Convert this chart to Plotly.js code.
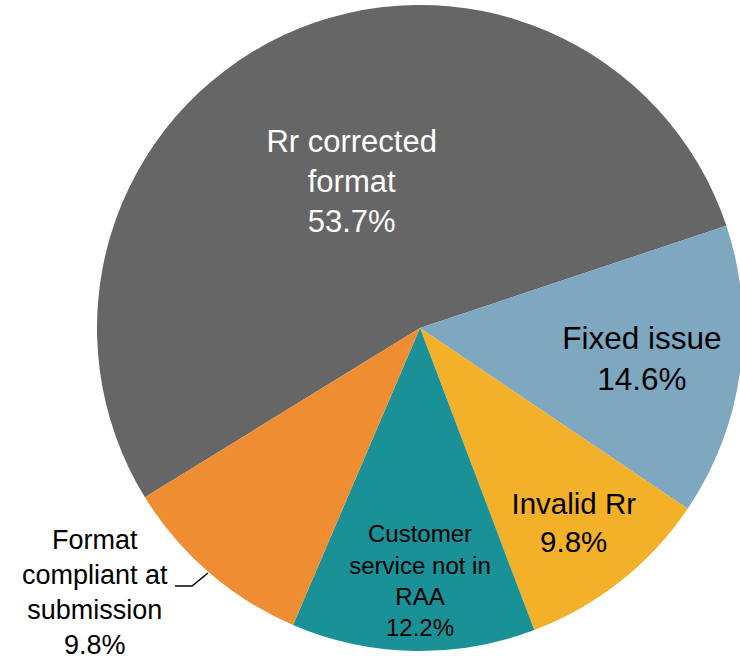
<!DOCTYPE html>
<html>
<head>
<meta charset="utf-8">
<script src="https://cdn.plot.ly/plotly-3.0.1.min.js"></script>
<style>html,body{margin:0;padding:0;background:#fff;overflow:hidden;}#chart{width:746px;height:656px;}</style>
</head>
<body>
<div id="chart"></div>
<script>
const categories = ["Rr corrected<br>format", "Fixed issue", "Invalid Rr", "Customer<br>service not in<br>RAA", "Format<br>compliant at<br>submission"];
const shares = [53.7, 14.6, 9.8, 12.2, 9.8];
const percentLabels = ["53.7%", "14.6%", "9.8%", "12.2%", "9.8%"];
const colors = ["#666666", "#7ea8c0", "#f3b12a", "#1a9097", "#ee8d32"];
const textColors = ["#ffffff", "#000000", "#000000", "#000000", "#000000"];
const textPositions = ["inside", "inside", "inside", "inside", "none"];
const textSizes = [31, 31.5, 29.5, 26, 27];

const W = 746, H = 656;
const trace = {
  type: "pie",
  labels: categories,
  values: shares,
  text: percentLabels,
  sort: false,
  direction: "clockwise",
  rotation: 238.4,
  texttemplate: "%{label}<br>%{text}",
  textposition: textPositions,
  insidetextorientation: "horizontal",
  textfont: { family: "Liberation Sans, Arial, sans-serif", size: textSizes, color: textColors },
  marker: { colors: colors, line: { width: 0 } },
  domain: { x: [97/W, 743/W], y: [5/H, 651/H] },
  hoverinfo: "none"
};

// outside label for the last slice, with a bent leader line to the slice edge
const outsideIdx = 4;
Plotly.newPlot("chart", [trace], {
  width: W, height: H,
  margin: { l: 0, r: 0, t: 0, b: 0 },
  paper_bgcolor: "#ffffff",
  showlegend: false,
  font: { family: "Liberation Sans, Arial, sans-serif" },
  annotations: [{
    xref: "paper", yref: "paper",
    x: 95/W, y: 1 - 592/H,
    xanchor: "center", yanchor: "middle",
    text: categories[outsideIdx] + "<br>" + percentLabels[outsideIdx],
    showarrow: false,
    font: { family: "Liberation Sans, Arial, sans-serif", size: textSizes[outsideIdx], color: "#000000" }
  }],
  shapes: [{
    type: "path", xref: "paper", yref: "paper",
    path: "M " + (175/W) + " " + (1 - 586/H) + " L " + (192/W) + " " + (1 - 586/H) + " L " + (208/W) + " " + (1 - 573/H),
    line: { color: "#000000", width: 1.5 }
  }]
}, { staticPlot: true });
</script>
</body>
</html>
